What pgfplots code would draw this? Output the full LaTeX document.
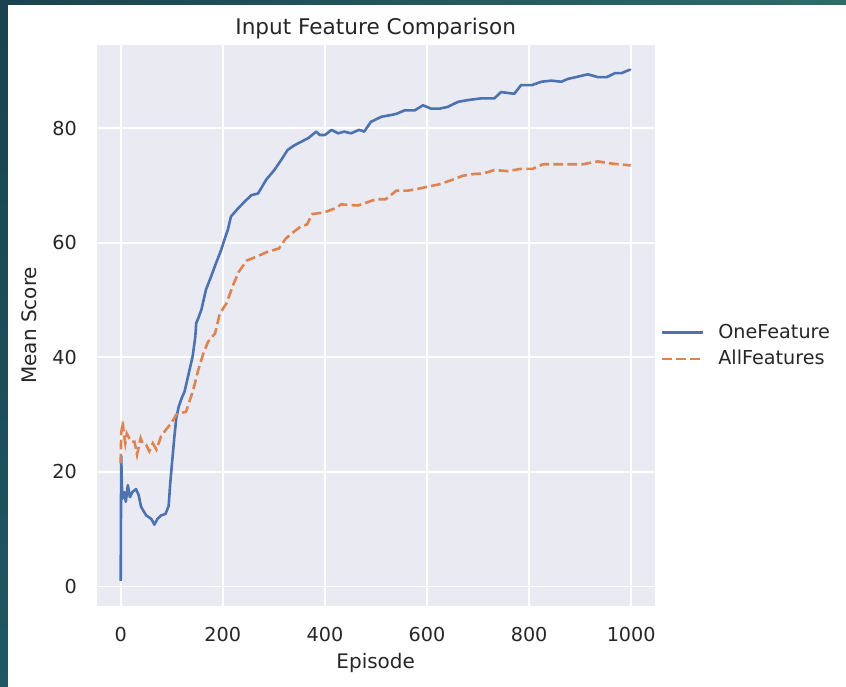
\documentclass[border=0pt]{standalone}
\usepackage{pgfplots}
\pgfplotsset{compat=1.18}
\usepackage{fontspec}
\setmainfont{DejaVu Sans}
\definecolor{sbblue}{HTML}{4C72B0}
\definecolor{sborange}{HTML}{DD8452}
\definecolor{sbbg}{HTML}{EAEAF2}
\definecolor{sbtext}{HTML}{262626}
\definecolor{frameA}{HTML}{1A4250}
\definecolor{frameB}{HTML}{2F6C68}
\definecolor{frameC}{HTML}{1E5862}
\begin{document}
\begin{tikzpicture}
\begin{axis}[
  at={(0,0)}, anchor=south west,
  scale only axis,
  width=279pt, height=280.75pt,
  xmin=-47, xmax=1046,
  ymin=-3.4, ymax=94.6,
  xtick={0,200,400,600,800,1000},
  ytick={0,20,40,60,80},
  /pgf/number format/assume math mode=true,
  /pgf/number format/1000 sep={},
  axis background/.style={fill=sbbg},
  axis line style={draw=none},
  major tick length=0pt,
  tick style={draw=none},
  grid=major,
  major grid style={white, line width=0.9pt},
  tick label style={font=\fontsize{9.6pt}{11pt}\selectfont, text=sbtext},
  yticklabel style={inner sep=0pt, xshift=-9.7pt},
  xticklabel style={inner sep=0pt, yshift=-10.3pt},
  title={Input Feature Comparison},
  title style={at={(axis description cs:0.5,1)}, anchor=base, yshift=-1pt, font=\fontsize{10.8pt}{12pt}\selectfont, text=sbtext, inner sep=0pt},
  xlabel={Episode},
  xlabel style={at={(axis description cs:0.5,-0.1122)}, anchor=base, font=\fontsize{10pt}{12pt}\selectfont, text=sbtext, inner sep=0pt},
  ylabel={Mean Score},
  ylabel style={at={(axis description cs:-0.107,0.5)}, anchor=base, font=\fontsize{10pt}{12pt}\selectfont, text=sbtext, inner sep=0pt},
  legend style={at={(axis description cs:1,0.4635)}, anchor=west, xshift=2.8pt, draw=none, fill=none, inner sep=0pt, font=\fontsize{9.6pt}{11pt}\selectfont, text=sbtext, row sep=4.5pt, column sep=0pt, nodes={inner sep=0pt}, cells={anchor=west}},
  legend image code/.code={\draw[#1] (0pt,0pt) -- (20.5pt,0pt); \path (27.5pt,0pt);},
  clip=true,
]
\addplot[sbblue, line width=1.3pt, line join=round] coordinates {
(0,1) (1,22.8) (3,15.3) (7,16.5) (10,14.8) (14,17.7) (18,15.6) (23,16.5) (30,17) (35,16)
(40,13.9) (50,12.4) (60,11.8) (66,10.8) (72,11.8) (79,12.4) (88,12.7) (94,14.1) (97,18)
(101,22) (105,26) (109,29.5) (114,31.5) (120,33) (125,34) (132,36.7) (141,40.2) (146,43.5) (148,46)
(151,46.6) (158,48.3) (167,51.8) (177,54.1) (187,56.5) (197,58.8) (203,60.5) (210,62.3)
(216,64.6) (230,66) (243,67.2) (256,68.3) (269,68.6) (285,71) (301,72.7) (314,74.4)
(327,76.2) (340,77) (353,77.6) (368,78.3) (383,79.4) (390,78.8) (400,78.8) (413,79.7) (426,79.1)
(438,79.4) (451,79.1) (467,79.7) (477,79.4) (490,81.1) (511,82) (530,82.3) (540,82.5)
(556,83.1) (576,83.1) (592,84) (608,83.4) (624,83.4) (640,83.7) (661,84.6) (680,84.9)
(706,85.2) (732,85.2) (745,86.3) (771,86) (784,87.5) (805,87.5) (824,88.1) (844,88.3)
(863,88.1) (876,88.6) (896,89) (915,89.4) (935,88.9) (952,88.9) (968,89.6) (981,89.6)
(997,90.2) (999,90.1)
};
\addlegendentry{OneFeature}
\addplot[sborange, line width=1.3pt, dash pattern=on 4.9pt off 2.1pt] coordinates {
(0,21.5) (1,26.7) (4,28.8) (6,26.7) (9,25) (12,26.7) (20,25.3) (27,25.3) (32,23) (39,25.9)
(43,25) (50,24.7) (56,23.6) (63,25) (70,23.9) (79,26.2) (89,27.4) (99,28.5) (109,30)
(118,30.3) (128,30.5) (142,34.3) (152,37.8) (162,40.7) (171,42.7) (185,44.2) (194,47.6)
(207,49.4) (221,52.8) (231,54.9) (247,56.9) (264,57.5) (287,58.4) (310,59) (323,60.7)
(339,61.9) (352,62.8) (365,63.2) (375,65) (399,65.3) (420,66) (432,66.7) (465,66.5)
(484,67.1) (500,67.6) (519,67.6) (540,69.1) (562,69.1) (582,69.4) (602,69.8) (624,70.2)
(647,70.9) (670,71.7) (692,72) (711,72.1) (732,72.7) (758,72.5) (784,72.9) (807,72.9)
(827,73.7) (853,73.7) (879,73.7) (905,73.7) (935,74.2) (955,73.9) (975,73.7) (999,73.5)
};
\addlegendentry{AllFeatures}
\end{axis}
\pgfresetboundingbox
\path[use as bounding box] (-48.35pt,-40pt) rectangle (374.65pt,303pt);
\shade[left color=frameA, right color=frameB] (-48.35pt,300.85pt) rectangle (374.65pt,303pt);
\shade[top color=frameA, bottom color=frameC] (-48.35pt,-40pt) rectangle (-44.35pt,303pt);
\end{tikzpicture}
\end{document}
